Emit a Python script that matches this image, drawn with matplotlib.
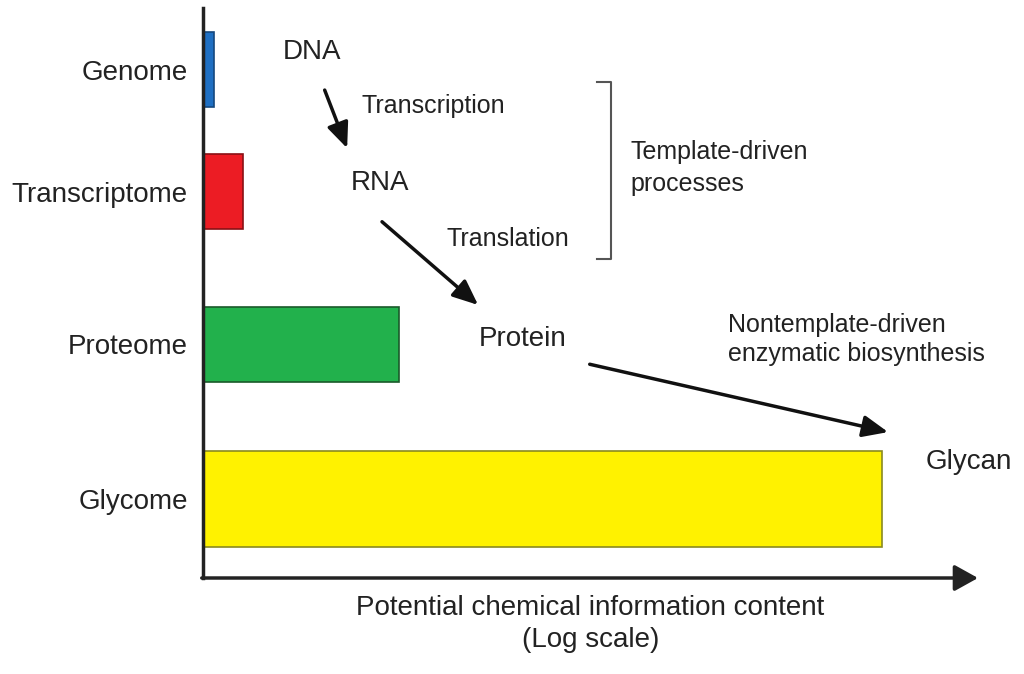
import matplotlib
matplotlib.use("Agg")
from matplotlib import pyplot as plt

plt.rcParams['font.family'] = ['Liberation Sans', 'DejaVu Sans']

# Data (arbitrary units on a 0-100 axis)
categories = ["Genome", "Transcriptome", "Proteome", "Glycome"]
info_content = [1.4, 5.2, 25.3, 87.6]
bar_colors = ["#1f6fc2", "#ec1c24", "#22b14c", "#fff200"]
edge_colors = ["#15487e", "#8a1015", "#1a5a2a", "#8a8a20"]

# Layout of the bars (vertical centre and thickness)
bar_y = [89.2, 67.8, 41.0, 13.9]
bar_h = [13.2, 13.2, 13.2, 16.8]

txt = "#222222"

fig = plt.figure(figsize=(10.24, 6.74), dpi=100)
ax = fig.add_axes([203 / 1024, 96 / 674, 775 / 1024, 570 / 674])

ax.barh(bar_y, info_content, height=bar_h, color=bar_colors,
        edgecolor=edge_colors, linewidth=1.2, align="center")

ax.set_xlim(0, 100)
ax.set_ylim(0, 100)

# Axis look: left line, bottom line drawn as an arrow
for s in ["top", "right", "bottom"]:
    ax.spines[s].set_visible(False)
ax.spines["left"].set_linewidth(2.5)
ax.spines["left"].set_color("#222222")
ax.annotate("", xy=(1.0, 0), xytext=(-0.0016, 0), xycoords="axes fraction",
            arrowprops=dict(arrowstyle="-|>,head_length=0.72,head_width=0.4",
                            lw=2.5, color="#222222", mutation_scale=20,
                            shrinkA=0, shrinkB=0))

ax.set_xticks([])
ax.set_yticks(bar_y)
ax.set_yticklabels(categories, fontsize=20, color=txt)
ax.tick_params(axis="y", length=0, pad=11)

ax.set_xlabel("Potential chemical information content\n(Log scale)",
              fontsize=20, color=txt, labelpad=12, linespacing=1.3)

# Labels of the flow
ax.text(14.1, 92.3, "DNA", fontsize=20, color=txt, ha="center", va="center")
ax.text(22.8, 69.3, "RNA", fontsize=20, color=txt, ha="center", va="center")
ax.text(41.3, 41.9, "Protein", fontsize=20, color=txt, ha="center", va="center")
ax.text(93.2, 20.4, "Glycan", fontsize=20, color=txt, ha="left", va="center",
        clip_on=False)

ax.text(20.5, 82.8, "Transcription", fontsize=18, color=txt, ha="left", va="center")
ax.text(31.4, 59.5, "Translation", fontsize=18, color=txt, ha="left", va="center")
ax.text(55.1, 71.9, "Template-driven\nprocesses", fontsize=18, color=txt,
        ha="left", va="center", linespacing=1.4)
ax.text(67.7, 41.8, "Nontemplate-driven\nenzymatic biosynthesis", fontsize=18,
        color=txt, ha="left", va="center", linespacing=1.25, clip_on=False)

# Arrows
arrows = [((15.7, 85.6), (18.6, 75.4)),
          ((23.1, 62.5), (35.5, 47.9)),
          ((49.9, 37.5), (88.4, 25.6))]
for start, tip in arrows:
    ax.annotate("", xy=tip, xytext=start,
                arrowprops=dict(arrowstyle="-|>,head_length=0.7,head_width=0.3",
                                lw=2.5, color="#111111",
                                mutation_scale=22, shrinkA=0, shrinkB=0))

# Bracket for template-driven processes
ax.plot([50.8, 52.6, 52.6, 50.8], [87.0, 87.0, 56.0, 56.0],
        color="#555555", lw=1.5)

fig.savefig("out.png", dpi=100)
